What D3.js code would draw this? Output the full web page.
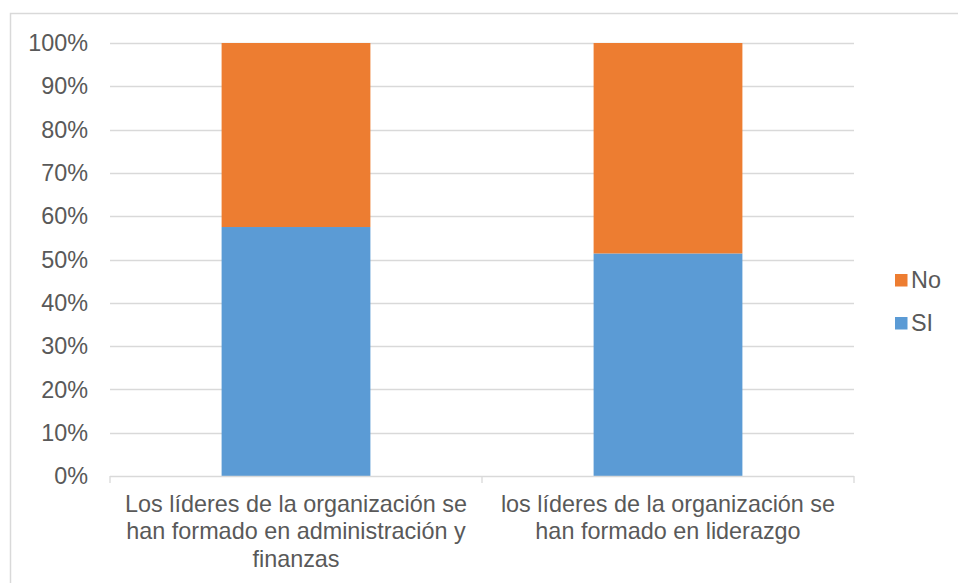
<!DOCTYPE html>
<html><head><meta charset="utf-8">
<script src="https://cdn.jsdelivr.net/npm/d3@7"></script>
<style>
html,body{margin:0;padding:0;background:#fff;}
svg{display:block;font-family:"Liberation Sans",Arial,sans-serif;}
</style></head>
<body><svg id="c" width="958" height="583"></svg>
<script>
const categories = [
  ["Los líderes de la organización se","han formado en administración y","finanzas"],
  ["los líderes de la organización se","han formado en liderazgo"]
];
const seriesNames = ["SI","No"];
const siValues = [57.5, 51.4];
const noValues = [42.5, 48.6];
const yTicks = [0,10,20,30,40,50,60,70,80,90,100];
const colors = {SI:"#5B9BD5", No:"#ED7D31"};

(function(){
const svg = d3.select("#c");
const fs = 23.4, txt = "#595959", grid = "#d9d9d9";
svg.append("rect").attr("x",10.5).attr("y",13.5).attr("width",1000).attr("height",1000)
  .attr("fill","none").attr("stroke","#d9d9d9").attr("stroke-width",1.5);

const pL=110, pR=854, pT=43, pB=476;
const x = d3.scaleBand().domain(d3.range(categories.length)).range([pL,pR]).paddingInner(0.6).paddingOuter(0.3);
const y = d3.scaleLinear().domain([0,100]).range([pB,pT]);

svg.append("g").selectAll("line").data(yTicks.filter(d=>d>0)).join("line")
  .attr("x1",pL).attr("x2",pR).attr("y1",d=>Math.round(y(d))+0.5).attr("y2",d=>Math.round(y(d))+0.5)
  .attr("stroke",grid).attr("stroke-width",1.3);

svg.append("g").selectAll("text").data(yTicks).join("text")
  .attr("x",88).attr("y",d=>y(d)).attr("dy","0.35em").attr("text-anchor","end")
  .attr("font-size",fs).attr("fill",txt).text(d=>d+"%");

const stackData = categories.map((c,i)=>({i, SI:siValues[i], No:noValues[i]}));
const stack = d3.stack().keys(seriesNames)(stackData);
svg.append("g").selectAll("g").data(stack).join("g").attr("fill",d=>colors[d.key])
  .selectAll("rect").data(d=>d).join("rect")
  .attr("x",d=>x(d.data.i)).attr("width",x.bandwidth())
  .attr("y",d=>y(d[1])).attr("height",d=>y(d[0])-y(d[1]));

const bandW = (pR-pL)/categories.length;
svg.append("line").attr("x1",pL).attr("x2",pR).attr("y1",pB+0.5).attr("y2",pB+0.5)
  .attr("stroke",grid).attr("stroke-width",1.3);
svg.append("g").selectAll("line").data(d3.range(categories.length+1)).join("line")
  .attr("x1",d=>pL+d*bandW).attr("x2",d=>pL+d*bandW).attr("y1",pB).attr("y2",pB+7)
  .attr("stroke",grid).attr("stroke-width",1.3);

svg.append("g").selectAll("text").data(categories).join("text")
  .attr("text-anchor","middle").attr("font-size",fs).attr("fill",txt)
  .each(function(lines,i){
    const cx = pL+(i+0.5)*bandW;
    d3.select(this).selectAll("tspan").data(lines).join("tspan")
      .attr("x",cx).attr("y",(d,j)=>511.5+j*27.6).text(d=>d);
  });

const legend = [{k:"No",y:274},{k:"SI",y:317}];
const lg = svg.append("g");
lg.selectAll("rect").data(legend).join("rect").attr("x",895).attr("y",d=>d.y).attr("width",12.5).attr("height",12.5)
  .attr("fill",d=>colors[d.k]);
lg.selectAll("text").data(legend).join("text").attr("x",911).attr("y",d=>d.y+6.3).attr("dy","0.35em")
  .attr("font-size",fs).attr("fill",txt).text(d=>d.k);
})();
</script></body></html>
